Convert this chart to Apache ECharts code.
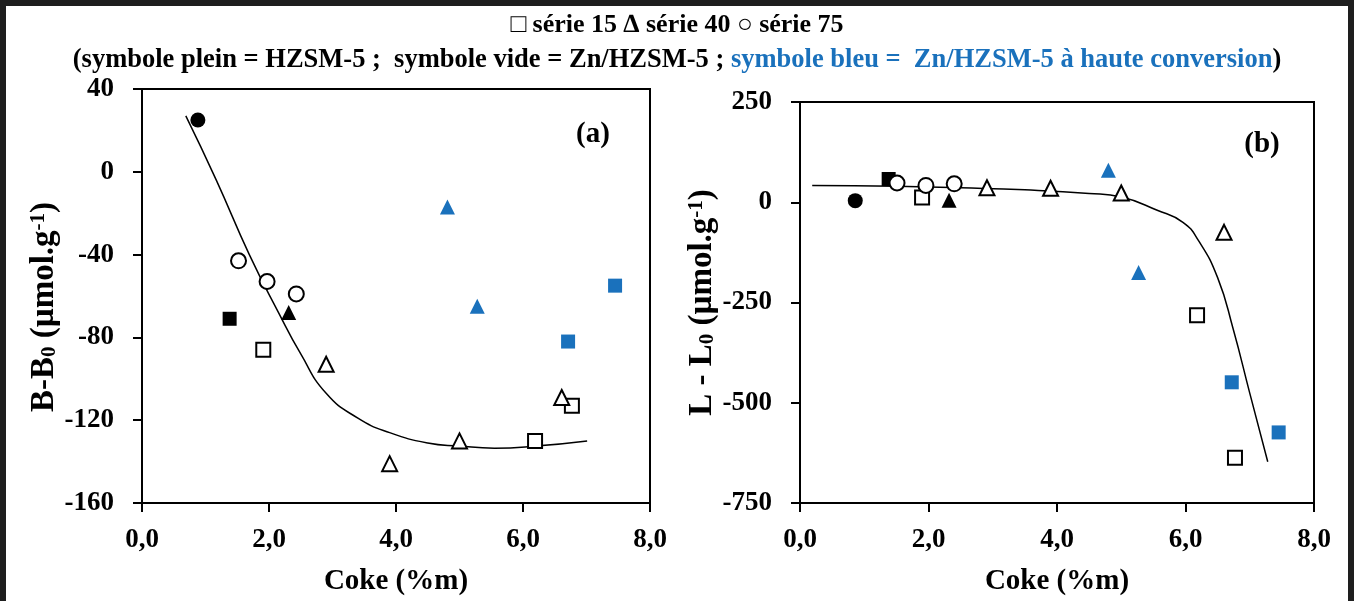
<!DOCTYPE html>
<html><head><meta charset="utf-8">
<script src="https://cdn.jsdelivr.net/npm/echarts@6.0.0/dist/echarts.min.js"></script>
<style>
html,body{margin:0;padding:0;background:#fff;}
#wrap{position:relative;width:1354px;height:601px;overflow:hidden;}
#chart{width:1354px;height:601px;}
#frame{position:absolute;left:0;top:0;width:1354px;height:640px;box-sizing:border-box;border:6px solid #1e1e1e;pointer-events:none;}
</style></head><body>
<div id="wrap"><div id="chart"></div><div id="frame"></div></div>
<script>
// ---- tick values ----
const xTicks = [0, 2, 4, 6, 8];
const yTicksA = [-160, -120, -80, -40, 0, 40];
const yTicksB = [-750, -500, -250, 0, 250];

// ---- panel (a): B - B0 ----
const a_s15_plein = [[1.38, -71]];
const a_s40_plein = [[2.31, -68]];
const a_s75_plein = [[0.88, 25]];
const a_s15_vide = [[1.91, -86], [6.19, -130], [6.77, -113]];
const a_s40_vide = [[2.90, -93], [3.90, -141], [5.00, -130], [6.61, -109]];
const a_s75_vide = [[1.52, -43], [1.97, -53], [2.43, -59]];
const a_s15_bleu = [[6.71, -82], [7.45, -55]];
const a_s40_bleu = [[4.81, -17], [5.28, -65]];
const a_trend = [[0.69, 27], [1.17, -4], [1.69, -40], [2.15, -68], [2.5, -88], [2.9, -107], [3.4, -119], [3.9, -126], [4.5, -131], [5.0, -132.5], [5.55, -133.5], [6.2, -132.5], [7.01, -130]];

// ---- panel (b): L - L0 ----
const b_s15_plein = [[1.38, 58]];
const b_s40_plein = [[2.32, 5]];
const b_s75_plein = [[0.86, 4]];
const b_s15_vide = [[1.90, 12], [6.18, -282], [6.77, -637]];
const b_s40_vide = [[2.91, 36], [3.90, 35], [5.00, 23], [6.60, -75]];
const b_s75_vide = [[1.51, 48], [1.96, 42], [2.40, 46]];
const b_s15_bleu = [[6.72, -449], [7.45, -574]];
const b_s40_bleu = [[4.80, 80], [5.27, -175]];
const b_trend = [[0.19, 42], [1.5, 40], [2.5, 36], [3.5, 31], [4.5, 22], [5.0, 13], [5.56, -20], [5.96, -50], [6.2, -95], [6.5, -188], [6.74, -315], [7.0, -476], [7.28, -647]];

const FONT = "'Liberation Serif','Times New Roman',serif";
const BLUE = '#1A71BC';
const SIZES = {circle: 15, rect: 14, triangle: 15};

function pts(name, data, symbol, kind, idx) {
  let style;
  if (kind === 'plein') style = {color: '#000', borderWidth: 0, opacity: 1};
  else if (kind === 'vide') style = {color: '#fff', borderColor: '#000', borderWidth: 2, opacity: 1};
  else style = {color: BLUE, borderWidth: 0, opacity: 1};
  return {
    name, type: 'scatter', data, symbol, symbolSize: SIZES[symbol],
    xAxisIndex: idx, yAxisIndex: idx, itemStyle: style, z: 3, silent: true
  };
}
function trend(data, idx) {
  return {type: 'line', data, xAxisIndex: idx, yAxisIndex: idx, showSymbol: false, symbol: 'none',
    smooth: 0.5, lineStyle: {color: '#000', width: 1.5}, z: 2, silent: true};
}

const tickFont = {fontFamily: FONT, fontSize: 27, fontWeight: 'bold', color: '#000'};
function xAxis(idx) {
  return {
    type: 'value', gridIndex: idx, min: xTicks[0], max: xTicks[xTicks.length - 1], interval: xTicks[1] - xTicks[0],
    axisLine: {show: true, onZero: false, lineStyle: {color: '#000', width: 2}},
    axisTick: {show: true, inside: false, length: 9, lineStyle: {color: '#000', width: 2}},
    splitLine: {show: false},
    axisLabel: Object.assign({margin: 24, formatter: v => v.toFixed(1).replace('.', ',')}, tickFont),
    name: 'Coke (%m)', nameLocation: 'middle', nameGap: 64,
    nameTextStyle: {fontFamily: FONT, fontSize: 29, fontWeight: 'bold', color: '#000'}
  };
}
function yAxis(idx, ticks, nameMain, shiftPad) {
  const big = {fontFamily: FONT, fontSize: 33, fontWeight: 'bold', color: '#000', lineHeight: 32};
  const small = {fontFamily: FONT, fontSize: 21, fontWeight: 'bold', color: '#000', lineHeight: 17};
  return {
    type: 'value', gridIndex: idx, min: ticks[0], max: ticks[ticks.length - 1], interval: ticks[1] - ticks[0],
    axisLine: {show: true, onZero: false, lineStyle: {color: '#000', width: 2}},
    axisTick: {show: true, inside: false, length: 9, lineStyle: {color: '#000', width: 2}},
    splitLine: {show: false},
    axisLabel: Object.assign({margin: 28}, tickFont),
    name: '{m|' + nameMain + '}{s|0}{m| (µmol.g}{p|-1}{m|)}',
    nameLocation: 'middle', nameRotate: 90, nameGap: 80,
    nameTextStyle: {padding: [0, shiftPad, 0, 0], rich: {
      m: big,
      s: Object.assign({verticalAlign: 'bottom'}, small),
      p: Object.assign({verticalAlign: 'top'}, small)
    }}
  };
}

const chart = echarts.init(document.getElementById('chart'), null, {renderer: 'canvas'});
const titleStyle = {fontFamily: FONT, fontSize: 26, fontWeight: 'bold', color: '#000'};
chart.setOption({
  animation: false,
  backgroundColor: '#fff',
  title: [
    {text: '□ série 15 ∆ série 40 ○ série 75', left: 'center', top: 7, textStyle: titleStyle},
    {text: '{k|(symbole plein = HZSM-5 ;  symbole vide = Zn/HZSM-5 ; }{b|symbole bleu =  Zn/HZSM-5 à haute conversion}{k|)}',
      left: 'center', top: 42,
      textStyle: {rich: {k: Object.assign({}, titleStyle, {fontSize: 26.5}), b: Object.assign({}, titleStyle, {fontSize: 26.5, color: BLUE})}}}
  ],
  grid: [
    {left: 142, top: 89, width: 508, height: 414, show: true, borderColor: '#000', borderWidth: 2, backgroundColor: 'transparent'},
    {left: 800, top: 102, width: 514, height: 406, show: true, borderColor: '#000', borderWidth: 2, backgroundColor: 'transparent'}
  ],
  xAxis: [xAxis(0), xAxis(1)],
  yAxis: [yAxis(0, yTicksA, 'B-B', 22), yAxis(1, yTicksB, 'L - L', 0)],
  graphic: [
    {type: 'text', x: 593, y: 135, style: {text: '(a)', fontFamily: FONT, fontSize: 29, fontWeight: 'bold', fill: '#000', align: 'center', verticalAlign: 'middle'}},
    {type: 'text', x: 1262, y: 145, style: {text: '(b)', fontFamily: FONT, fontSize: 29, fontWeight: 'bold', fill: '#000', align: 'center', verticalAlign: 'middle'}}
  ],
  series: [
    trend(a_trend, 0),
    pts('série 15 HZSM-5', a_s15_plein, 'rect', 'plein', 0),
    pts('série 40 HZSM-5', a_s40_plein, 'triangle', 'plein', 0),
    pts('série 75 HZSM-5', a_s75_plein, 'circle', 'plein', 0),
    pts('série 15 Zn/HZSM-5', a_s15_vide, 'rect', 'vide', 0),
    pts('série 40 Zn/HZSM-5', a_s40_vide, 'triangle', 'vide', 0),
    pts('série 75 Zn/HZSM-5', a_s75_vide, 'circle', 'vide', 0),
    pts('série 15 haute conversion', a_s15_bleu, 'rect', 'bleu', 0),
    pts('série 40 haute conversion', a_s40_bleu, 'triangle', 'bleu', 0),
    trend(b_trend, 1),
    pts('série 15 HZSM-5', b_s15_plein, 'rect', 'plein', 1),
    pts('série 40 HZSM-5', b_s40_plein, 'triangle', 'plein', 1),
    pts('série 75 HZSM-5', b_s75_plein, 'circle', 'plein', 1),
    pts('série 15 Zn/HZSM-5', b_s15_vide, 'rect', 'vide', 1),
    pts('série 40 Zn/HZSM-5', b_s40_vide, 'triangle', 'vide', 1),
    pts('série 75 Zn/HZSM-5', b_s75_vide, 'circle', 'vide', 1),
    pts('série 15 haute conversion', b_s15_bleu, 'rect', 'bleu', 1),
    pts('série 40 haute conversion', b_s40_bleu, 'triangle', 'bleu', 1)
  ]
});
</script>
</body></html>
